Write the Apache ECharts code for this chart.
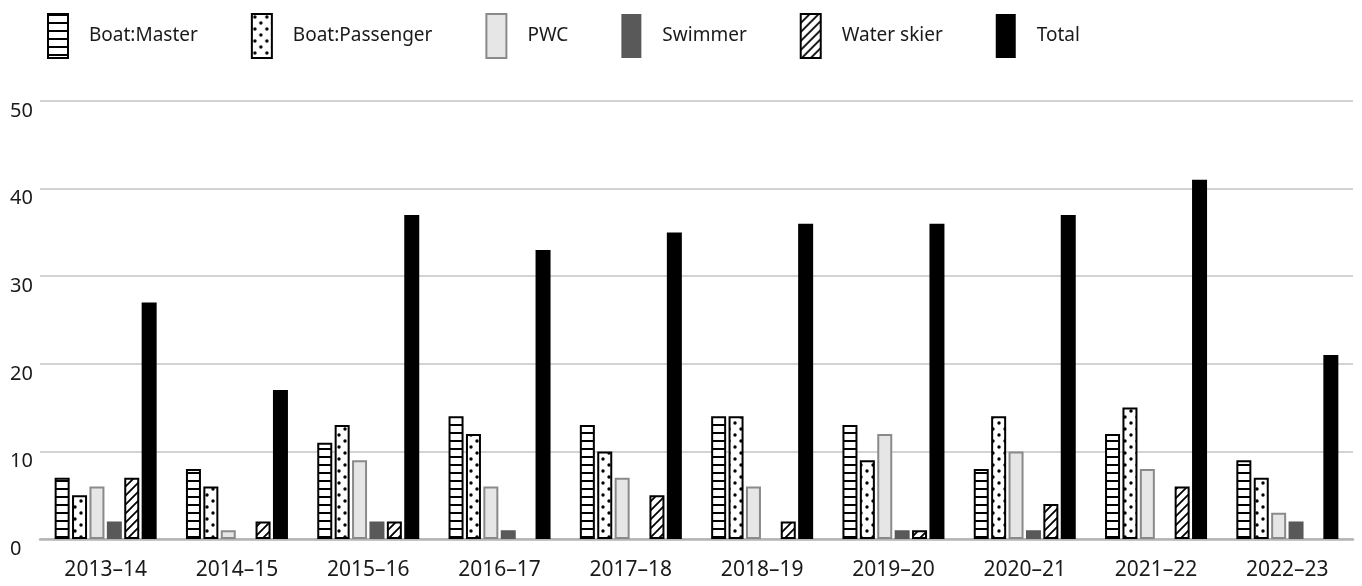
<!DOCTYPE html>
<html>
<head>
<meta charset="utf-8">
<script src="https://cdn.jsdelivr.net/npm/echarts@6/dist/echarts.min.js"></script>
<style>
  html, body { margin: 0; padding: 0; background: #fff; }
  #chart { width: 1362px; height: 586px; }
</style>
</head>
<body>
<div id="chart"></div>
<script>
// data
const seasons = ["2013–14", "2014–15", "2015–16", "2016–17", "2017–18", "2018–19", "2019–20", "2020–21", "2021–22", "2022–23"]
const boatMaster = [7, 8, 11, 14, 13, 14, 13, 8, 12, 9]
const boatPassenger = [5, 6, 13, 12, 10, 14, 9, 14, 15, 7]
const pwc = [6, 1, 9, 6, 7, 6, 12, 10, 8, 3]
const swimmer = [2, 0, 2, 1, 0, 0, 1, 1, 0, 2]
const waterSkier = [7, 2, 2, 0, 5, 2, 1, 4, 6, 0]
const total = [27, 17, 37, 33, 35, 36, 36, 37, 41, 21]
const yTicks = [0, 10, 20, 30, 40, 50]

// pattern tiles
const makeTile = (w, h, draw) => {
  const c = document.createElement("canvas")
  c.width = w
  c.height = h
  const ctx = c.getContext("2d")
  ctx.fillStyle = "#fff"
  ctx.fillRect(0, 0, w, h)
  draw(ctx)
  return { image: c, repeat: "repeat" }
}

// horizontal stripes
const stripes = makeTile(8, 8, (ctx) => {
  ctx.fillStyle = "#000"
  ctx.fillRect(0, 0, 8, 2)
})

// dots
const dots = makeTile(12, 12, (ctx) => {
  ctx.fillStyle = "#000"
  ctx.beginPath()
  ctx.arc(3, 3, 1.7, 0, Math.PI * 2)
  ctx.fill()
  ctx.beginPath()
  ctx.arc(9, 9, 1.7, 0, Math.PI * 2)
  ctx.fill()
})

// diagonal hatch
const hatch = makeTile(9, 9, (ctx) => {
  ctx.strokeStyle = "#000"
  ctx.lineWidth = 1.8
  ctx.beginPath()
  ctx.moveTo(-1, 10)
  ctx.lineTo(10, -1)
  ctx.moveTo(-1, 1)
  ctx.lineTo(1, -1)
  ctx.moveTo(8, 10)
  ctx.lineTo(10, 8)
  ctx.stroke()
})

const chart = echarts.init(document.getElementById("chart"), null, { renderer: "canvas" })

// no border on empty bars
const noEmpty = (arr) => arr.map((v) => (v === 0 ? { value: v, itemStyle: { borderWidth: 0 } } : v))

const bar = (name, data, itemStyle) => ({
  name: name,
  type: "bar",
  data: noEmpty(data),
  barWidth: 15,
  barGap: "16%",
  itemStyle: itemStyle
})

const option = {
  animation: false,
  textStyle: { fontFamily: "Noto Sans" },
  legend: {
    left: 42,
    top: 8,
    icon: "rect",
    itemWidth: 20,
    itemHeight: 44,
    itemGap: 53,
    textStyle: { fontSize: 19, color: "#1a1a1a", padding: [0, 0, 0, 16] },
    data: ["Boat:Master", "Boat:Passenger", "PWC", "Swimmer", "Water skier", "Total"]
  },
  grid: {
    left: 40,
    right: 9,
    top: 101,
    bottom: 47,
    containLabel: false
  },
  xAxis: {
    type: "category",
    data: seasons,
    axisLine: { lineStyle: { color: "#b4b4b4", width: 2.5 } },
    axisTick: { inside: true, length: 11, lineStyle: { color: "#b4b4b4", width: 2 } },
    axisLabel: { fontSize: 21, color: "#1a1a1a", margin: 21 }
  },
  yAxis: {
    type: "value",
    min: yTicks[0],
    max: yTicks[yTicks.length - 1],
    interval: 10,
    axisLine: { show: false },
    axisTick: { show: false },
    splitLine: { lineStyle: { color: "#c4c4c4", width: 1.5 } },
    axisLabel: { fontSize: 20, color: "#1a1a1a", align: "left", margin: 30, verticalAlign: "top" }
  },
  series: [
    bar("Boat:Master", boatMaster, { color: stripes, borderColor: "#000", borderWidth: 2 }),
    bar("Boat:Passenger", boatPassenger, { color: dots, borderColor: "#000", borderWidth: 2 }),
    bar("PWC", pwc, { color: "#e6e6e6", borderColor: "#8a8a8a", borderWidth: 2 }),
    bar("Swimmer", swimmer, { color: "#595959" }),
    bar("Water skier", waterSkier, { color: hatch, borderColor: "#000", borderWidth: 2 }),
    bar("Total", total, { color: "#000" })
  ]
}

chart.setOption(option)
</script>
</body>
</html>
